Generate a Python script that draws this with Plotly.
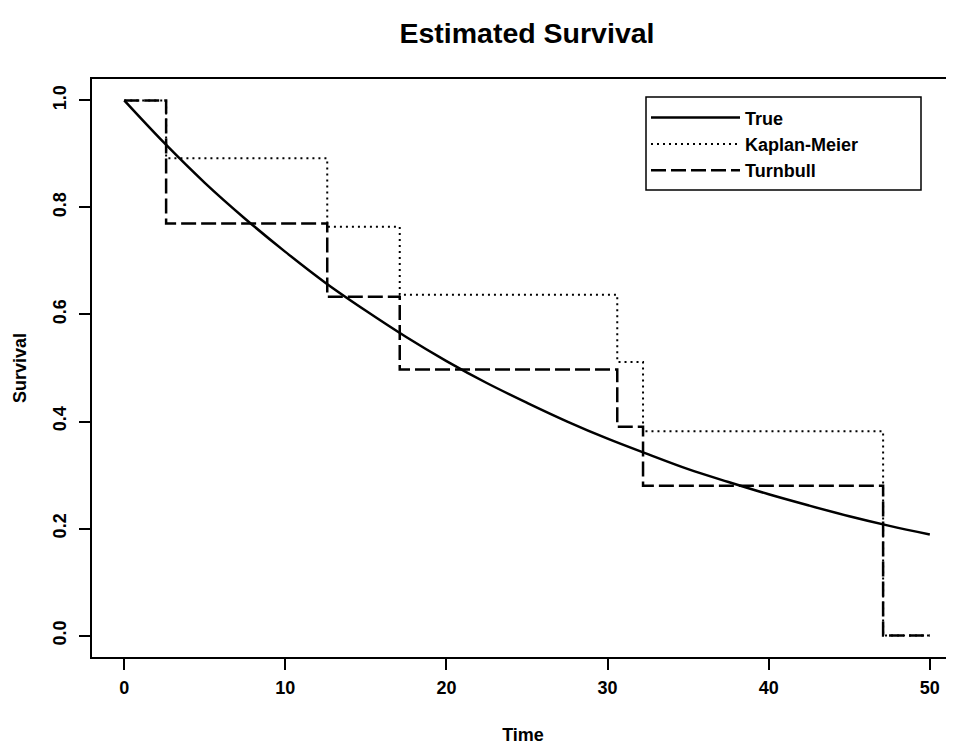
import plotly.graph_objects as go

# True survival curve
true_time = [0, 2.5, 5, 7.5, 10, 12.5, 15, 17.5, 20, 22.5, 25, 27.5, 30,
             32.5, 35, 37.5, 40, 42.5, 45, 47.5, 50]
true_surv = [1.000, 0.920, 0.846, 0.779, 0.717, 0.659, 0.607, 0.558, 0.513,
             0.472, 0.435, 0.400, 0.368, 0.339, 0.311, 0.287, 0.264, 0.243,
             0.223, 0.205, 0.189]

# Kaplan-Meier step function
km_time = [0, 2.6, 12.6, 17.1, 30.6, 32.2, 47.1, 50]
km_surv = [1.0, 0.892, 0.764, 0.637, 0.511, 0.382, 0.0, 0.0]

# Turnbull step function
tb_time = [0, 2.6, 12.6, 17.1, 30.6, 32.2, 47.1, 50]
tb_surv = [1.0, 0.770, 0.633, 0.497, 0.390, 0.280, 0.0, 0.0]

x_ticks = [0, 10, 20, 30, 40, 50]
y_ticks = [0.0, 0.2, 0.4, 0.6, 0.8, 1.0]

FONT = "Liberation Sans, Arial, Helvetica, sans-serif"

# the page body has an 8px margin, so the figure is sized/offset to compensate
W, H = 946, 742
PLOT_W, PLOT_H = 862, 578

fig = go.Figure()
fig.add_trace(go.Scatter(x=true_time, y=true_surv, mode="lines", name="True",
                         line=dict(color="black", width=2.5, shape="spline")))
fig.add_trace(go.Scatter(x=km_time, y=km_surv, mode="lines", name="Kaplan-Meier",
                         line=dict(color="black", width=2, shape="hv",
                                   dash="2px,4px")))
fig.add_trace(go.Scatter(x=tb_time, y=tb_surv, mode="lines", name="Turnbull",
                         line=dict(color="black", width=2.5, shape="hv",
                                   dash="15px,5px")))

# legend frame (wider than plotly's auto-sized legend box)
lx0, lx1 = (646 - 92) / PLOT_W, (921 - 92) / PLOT_W
ly1, ly0 = (657 - 97) / PLOT_H, (657 - 190) / PLOT_H
fig.add_shape(type="rect", xref="paper", yref="paper",
              x0=lx0, x1=lx1, y0=ly0, y1=ly1,
              line=dict(color="black", width=1.5), fillcolor="white",
              layer="below")

fig.update_layout(
    width=W, height=H,
    margin=dict(l=84, r=0, t=71, b=93, pad=0, autoexpand=False),
    paper_bgcolor="white", plot_bgcolor="white",
    font=dict(family=FONT, color="black", size=18),
    title=dict(text="<b>Estimated Survival</b>", x=519/W, xanchor="center",
               y=1-25/H, yanchor="middle",
               font=dict(size=28.5, family=FONT, color="black")),
    showlegend=True,
    legend=dict(x=lx0, y=ly1 - 0.004, xanchor="left", yanchor="top",
                bgcolor="rgba(0,0,0,0)", borderwidth=0,
                font=dict(size=18, family=FONT, color="black", weight="bold"),
                itemwidth=89, tracegroupgap=0),
    xaxis=dict(range=[-2, 51.5], tickvals=x_ticks,
               ticktext=[f"<b>{v}</b>" for v in x_ticks],
               ticks="outside", ticklen=11, tickwidth=1.5, tickcolor="black",
               showline=True, linecolor="black", linewidth=2, mirror=True,
               showgrid=False, zeroline=False, ticklabelstandoff=2,
               tickfont=dict(size=18),
               title=dict(text="<b>Time</b>", standoff=32, font=dict(size=18))),
    yaxis=dict(range=[-0.04, 1.04], tickvals=y_ticks,
               ticktext=[f"<b>{v:.1f}</b>" for v in y_ticks],
               tickangle=-90,
               ticks="outside", ticklen=11, tickwidth=1.5, tickcolor="black",
               showline=True, linecolor="black", linewidth=2, mirror=False,
               showgrid=False, zeroline=False, ticklabelstandoff=6,
               tickfont=dict(size=18),
               title=dict(text="<b>Survival</b>", standoff=18, font=dict(size=18))),
)

fig.write_html("out.html")
